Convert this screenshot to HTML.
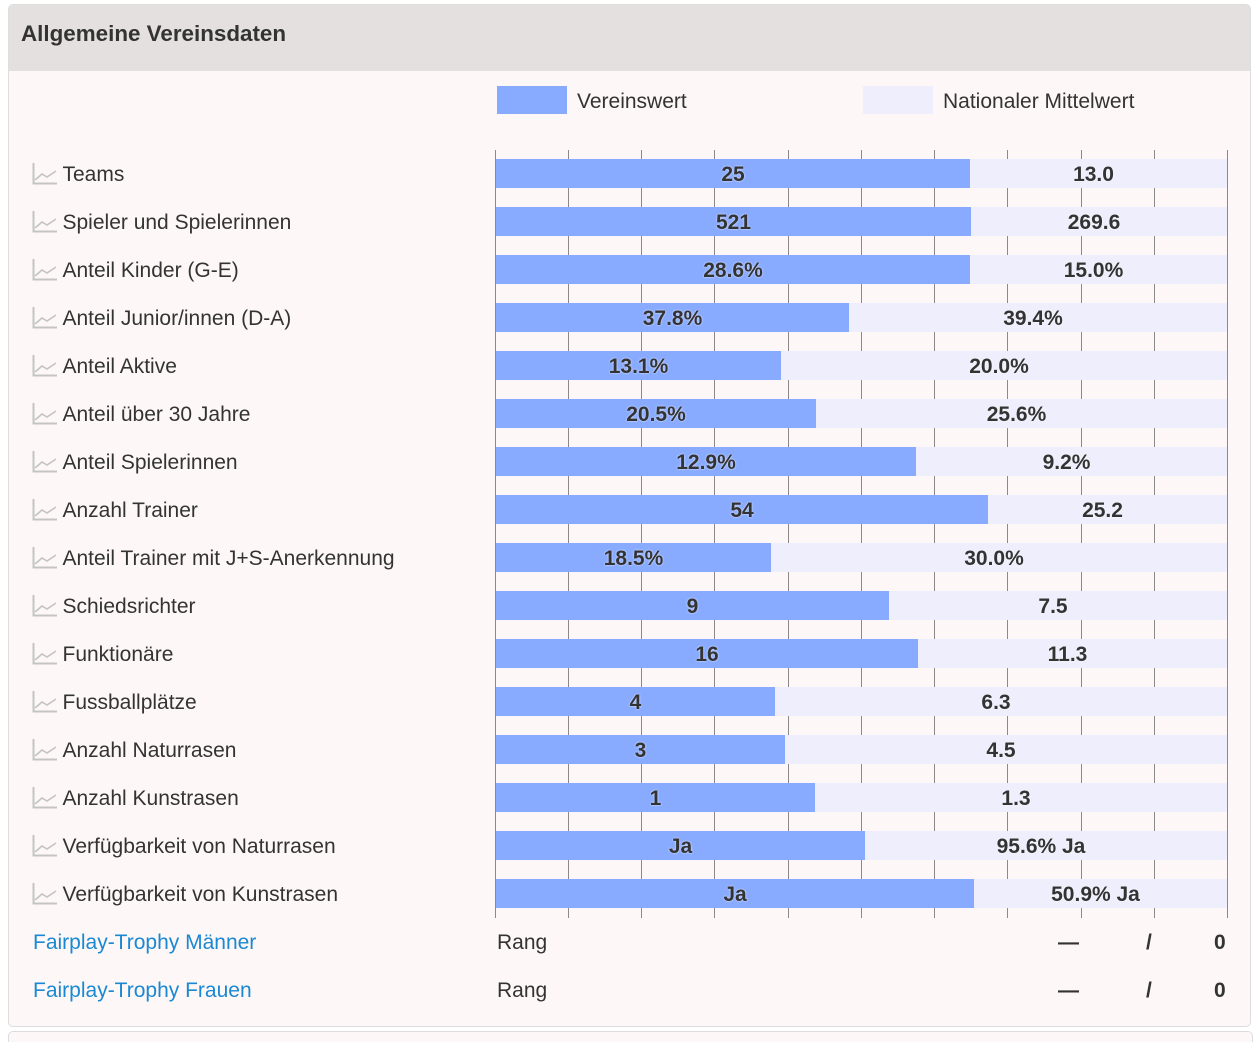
<!DOCTYPE html>
<html><head><meta charset="utf-8">
<style>
html,body{margin:0;padding:0;background:#fff;}
body{width:1255px;height:1033px;position:relative;overflow:hidden;font-family:"Liberation Sans",Arial,sans-serif;color:#333;}
.panel{position:absolute;left:8px;top:4px;width:1243px;height:1023px;background:#fdf8f7;border:1px solid #ddd;border-radius:5px;box-sizing:border-box;overflow:hidden;}
.hdr{position:absolute;left:0;top:0;right:0;height:66px;background:#e4e0e0;}
.title{position:absolute;left:12px;top:16px;font-size:22.4px;font-weight:bold;line-height:26px;color:#333;}
.next{position:absolute;left:8px;top:1031px;width:1243px;height:10px;border-top:1px solid #ddd;border-left:1px solid #ddd;border-right:1px solid #ddd;border-radius:5px 5px 0 0;background:#fdf8f7;}
.a{position:absolute;}
.g{position:absolute;top:150px;height:768px;width:1px;background:#8a8a8a;}
.lab{position:absolute;left:62.5px;font-size:21px;line-height:29px;height:29px;white-space:nowrap;color:#333;margin-top:1px;}
.ic{position:absolute;left:32px;width:26px;height:22px;}
.b1{position:absolute;left:496px;height:29px;background:#88aaff;}
.b2{position:absolute;height:29px;background:#eeeefd;}
.v{position:absolute;height:29px;line-height:29px;font-size:21px;font-weight:bold;text-align:center;color:#333;text-shadow:0 0 2px rgba(255,255,255,0.8);white-space:nowrap;margin-top:1px;}
.leg{position:absolute;font-size:21px;line-height:28px;top:88px;color:#333;}
.fp{position:absolute;left:33px;font-size:21px;line-height:28px;color:#1a88d2;margin-top:1px;}
.rang{position:absolute;left:497px;font-size:21px;line-height:28px;color:#333;margin-top:1px;}
.bd{position:absolute;font-size:21px;line-height:28px;font-weight:bold;color:#333;margin-top:1px;}
</style></head><body>
<div class="panel">
  <div class="hdr"></div>
  <div class="title">Allgemeine Vereinsdaten</div>
</div>
<div class="next"></div>

<!-- legend -->
<div class="a" style="left:497px;top:86px;width:70px;height:28px;background:#88aaff;"></div>
<div class="leg" style="left:577px;">Vereinswert</div>
<div class="a" style="left:863px;top:86px;width:70px;height:28px;background:#eeeefd;"></div>
<div class="leg" style="left:943px;">Nationaler Mittelwert</div>

<!-- grid -->
<div class="g" style="left:495px"></div>
<div class="g" style="left:568px"></div>
<div class="g" style="left:641px"></div>
<div class="g" style="left:714px"></div>
<div class="g" style="left:788px"></div>
<div class="g" style="left:861px"></div>
<div class="g" style="left:934px"></div>
<div class="g" style="left:1007px"></div>
<div class="g" style="left:1081px"></div>
<div class="g" style="left:1154px"></div>
<div class="g" style="left:1227px"></div>

<svg class="ic" style="top:163px" viewBox="0 0 26 22"><polyline points="1.5,0 1.5,20.5 25,20.5" fill="none" stroke="#c4c4c4" stroke-width="2"/><polyline points="3,17 10,11 15,14 24,8" fill="none" stroke="#c4c4c4" stroke-width="1.6"/></svg>
<div class="lab" style="top:159px">Teams</div>
<div class="b1" style="top:159px;width:474px"></div><div class="b2" style="top:159px;left:970px;width:257px"></div>
<div class="v" style="top:159px;left:496px;width:474px">25</div><div class="v" style="top:159px;left:970px;width:247px">13.0</div>

<svg class="ic" style="top:211px" viewBox="0 0 26 22"><polyline points="1.5,0 1.5,20.5 25,20.5" fill="none" stroke="#c4c4c4" stroke-width="2"/><polyline points="3,17 10,11 15,14 24,8" fill="none" stroke="#c4c4c4" stroke-width="1.6"/></svg>
<div class="lab" style="top:207px">Spieler und Spielerinnen</div>
<div class="b1" style="top:207px;width:475px"></div><div class="b2" style="top:207px;left:971px;width:256px"></div>
<div class="v" style="top:207px;left:496px;width:475px">521</div><div class="v" style="top:207px;left:971px;width:246px">269.6</div>

<svg class="ic" style="top:259px" viewBox="0 0 26 22"><polyline points="1.5,0 1.5,20.5 25,20.5" fill="none" stroke="#c4c4c4" stroke-width="2"/><polyline points="3,17 10,11 15,14 24,8" fill="none" stroke="#c4c4c4" stroke-width="1.6"/></svg>
<div class="lab" style="top:255px">Anteil Kinder (G-E)</div>
<div class="b1" style="top:255px;width:474px"></div><div class="b2" style="top:255px;left:970px;width:257px"></div>
<div class="v" style="top:255px;left:496px;width:474px">28.6%</div><div class="v" style="top:255px;left:970px;width:247px">15.0%</div>

<svg class="ic" style="top:307px" viewBox="0 0 26 22"><polyline points="1.5,0 1.5,20.5 25,20.5" fill="none" stroke="#c4c4c4" stroke-width="2"/><polyline points="3,17 10,11 15,14 24,8" fill="none" stroke="#c4c4c4" stroke-width="1.6"/></svg>
<div class="lab" style="top:303px">Anteil Junior/innen (D-A)</div>
<div class="b1" style="top:303px;width:353px"></div><div class="b2" style="top:303px;left:849px;width:378px"></div>
<div class="v" style="top:303px;left:496px;width:353px">37.8%</div><div class="v" style="top:303px;left:849px;width:368px">39.4%</div>

<svg class="ic" style="top:355px" viewBox="0 0 26 22"><polyline points="1.5,0 1.5,20.5 25,20.5" fill="none" stroke="#c4c4c4" stroke-width="2"/><polyline points="3,17 10,11 15,14 24,8" fill="none" stroke="#c4c4c4" stroke-width="1.6"/></svg>
<div class="lab" style="top:351px">Anteil Aktive</div>
<div class="b1" style="top:351px;width:285px"></div><div class="b2" style="top:351px;left:781px;width:446px"></div>
<div class="v" style="top:351px;left:496px;width:285px">13.1%</div><div class="v" style="top:351px;left:781px;width:436px">20.0%</div>

<svg class="ic" style="top:403px" viewBox="0 0 26 22"><polyline points="1.5,0 1.5,20.5 25,20.5" fill="none" stroke="#c4c4c4" stroke-width="2"/><polyline points="3,17 10,11 15,14 24,8" fill="none" stroke="#c4c4c4" stroke-width="1.6"/></svg>
<div class="lab" style="top:399px">Anteil über 30 Jahre</div>
<div class="b1" style="top:399px;width:320px"></div><div class="b2" style="top:399px;left:816px;width:411px"></div>
<div class="v" style="top:399px;left:496px;width:320px">20.5%</div><div class="v" style="top:399px;left:816px;width:401px">25.6%</div>

<svg class="ic" style="top:451px" viewBox="0 0 26 22"><polyline points="1.5,0 1.5,20.5 25,20.5" fill="none" stroke="#c4c4c4" stroke-width="2"/><polyline points="3,17 10,11 15,14 24,8" fill="none" stroke="#c4c4c4" stroke-width="1.6"/></svg>
<div class="lab" style="top:447px">Anteil Spielerinnen</div>
<div class="b1" style="top:447px;width:420px"></div><div class="b2" style="top:447px;left:916px;width:311px"></div>
<div class="v" style="top:447px;left:496px;width:420px">12.9%</div><div class="v" style="top:447px;left:916px;width:301px">9.2%</div>

<svg class="ic" style="top:499px" viewBox="0 0 26 22"><polyline points="1.5,0 1.5,20.5 25,20.5" fill="none" stroke="#c4c4c4" stroke-width="2"/><polyline points="3,17 10,11 15,14 24,8" fill="none" stroke="#c4c4c4" stroke-width="1.6"/></svg>
<div class="lab" style="top:495px">Anzahl Trainer</div>
<div class="b1" style="top:495px;width:492px"></div><div class="b2" style="top:495px;left:988px;width:239px"></div>
<div class="v" style="top:495px;left:496px;width:492px">54</div><div class="v" style="top:495px;left:988px;width:229px">25.2</div>

<svg class="ic" style="top:547px" viewBox="0 0 26 22"><polyline points="1.5,0 1.5,20.5 25,20.5" fill="none" stroke="#c4c4c4" stroke-width="2"/><polyline points="3,17 10,11 15,14 24,8" fill="none" stroke="#c4c4c4" stroke-width="1.6"/></svg>
<div class="lab" style="top:543px">Anteil Trainer mit J+S-Anerkennung</div>
<div class="b1" style="top:543px;width:275px"></div><div class="b2" style="top:543px;left:771px;width:456px"></div>
<div class="v" style="top:543px;left:496px;width:275px">18.5%</div><div class="v" style="top:543px;left:771px;width:446px">30.0%</div>

<svg class="ic" style="top:595px" viewBox="0 0 26 22"><polyline points="1.5,0 1.5,20.5 25,20.5" fill="none" stroke="#c4c4c4" stroke-width="2"/><polyline points="3,17 10,11 15,14 24,8" fill="none" stroke="#c4c4c4" stroke-width="1.6"/></svg>
<div class="lab" style="top:591px">Schiedsrichter</div>
<div class="b1" style="top:591px;width:393px"></div><div class="b2" style="top:591px;left:889px;width:338px"></div>
<div class="v" style="top:591px;left:496px;width:393px">9</div><div class="v" style="top:591px;left:889px;width:328px">7.5</div>

<svg class="ic" style="top:643px" viewBox="0 0 26 22"><polyline points="1.5,0 1.5,20.5 25,20.5" fill="none" stroke="#c4c4c4" stroke-width="2"/><polyline points="3,17 10,11 15,14 24,8" fill="none" stroke="#c4c4c4" stroke-width="1.6"/></svg>
<div class="lab" style="top:639px">Funktionäre</div>
<div class="b1" style="top:639px;width:422px"></div><div class="b2" style="top:639px;left:918px;width:309px"></div>
<div class="v" style="top:639px;left:496px;width:422px">16</div><div class="v" style="top:639px;left:918px;width:299px">11.3</div>

<svg class="ic" style="top:691px" viewBox="0 0 26 22"><polyline points="1.5,0 1.5,20.5 25,20.5" fill="none" stroke="#c4c4c4" stroke-width="2"/><polyline points="3,17 10,11 15,14 24,8" fill="none" stroke="#c4c4c4" stroke-width="1.6"/></svg>
<div class="lab" style="top:687px">Fussballplätze</div>
<div class="b1" style="top:687px;width:279px"></div><div class="b2" style="top:687px;left:775px;width:452px"></div>
<div class="v" style="top:687px;left:496px;width:279px">4</div><div class="v" style="top:687px;left:775px;width:442px">6.3</div>

<svg class="ic" style="top:739px" viewBox="0 0 26 22"><polyline points="1.5,0 1.5,20.5 25,20.5" fill="none" stroke="#c4c4c4" stroke-width="2"/><polyline points="3,17 10,11 15,14 24,8" fill="none" stroke="#c4c4c4" stroke-width="1.6"/></svg>
<div class="lab" style="top:735px">Anzahl Naturrasen</div>
<div class="b1" style="top:735px;width:289px"></div><div class="b2" style="top:735px;left:785px;width:442px"></div>
<div class="v" style="top:735px;left:496px;width:289px">3</div><div class="v" style="top:735px;left:785px;width:432px">4.5</div>

<svg class="ic" style="top:787px" viewBox="0 0 26 22"><polyline points="1.5,0 1.5,20.5 25,20.5" fill="none" stroke="#c4c4c4" stroke-width="2"/><polyline points="3,17 10,11 15,14 24,8" fill="none" stroke="#c4c4c4" stroke-width="1.6"/></svg>
<div class="lab" style="top:783px">Anzahl Kunstrasen</div>
<div class="b1" style="top:783px;width:319px"></div><div class="b2" style="top:783px;left:815px;width:412px"></div>
<div class="v" style="top:783px;left:496px;width:319px">1</div><div class="v" style="top:783px;left:815px;width:402px">1.3</div>

<svg class="ic" style="top:835px" viewBox="0 0 26 22"><polyline points="1.5,0 1.5,20.5 25,20.5" fill="none" stroke="#c4c4c4" stroke-width="2"/><polyline points="3,17 10,11 15,14 24,8" fill="none" stroke="#c4c4c4" stroke-width="1.6"/></svg>
<div class="lab" style="top:831px">Verfügbarkeit von Naturrasen</div>
<div class="b1" style="top:831px;width:369px"></div><div class="b2" style="top:831px;left:865px;width:362px"></div>
<div class="v" style="top:831px;left:496px;width:369px">Ja</div><div class="v" style="top:831px;left:865px;width:352px">95.6% Ja</div>

<svg class="ic" style="top:883px" viewBox="0 0 26 22"><polyline points="1.5,0 1.5,20.5 25,20.5" fill="none" stroke="#c4c4c4" stroke-width="2"/><polyline points="3,17 10,11 15,14 24,8" fill="none" stroke="#c4c4c4" stroke-width="1.6"/></svg>
<div class="lab" style="top:879px">Verfügbarkeit von Kunstrasen</div>
<div class="b1" style="top:879px;width:478px"></div><div class="b2" style="top:879px;left:974px;width:253px"></div>
<div class="v" style="top:879px;left:496px;width:478px">Ja</div><div class="v" style="top:879px;left:974px;width:243px">50.9% Ja</div>

<!-- fairplay -->
<div class="fp" style="top:928px">Fairplay-Trophy Männer</div>
<div class="rang" style="top:928px">Rang</div>
<div class="bd" style="top:928px;left:1058px">—</div>
<div class="bd" style="top:928px;left:1146px">/</div>
<div class="bd" style="top:928px;left:1214px">0</div>

<div class="fp" style="top:976px">Fairplay-Trophy Frauen</div>
<div class="rang" style="top:976px">Rang</div>
<div class="bd" style="top:976px;left:1058px">—</div>
<div class="bd" style="top:976px;left:1146px">/</div>
<div class="bd" style="top:976px;left:1214px">0</div>
</body></html>
